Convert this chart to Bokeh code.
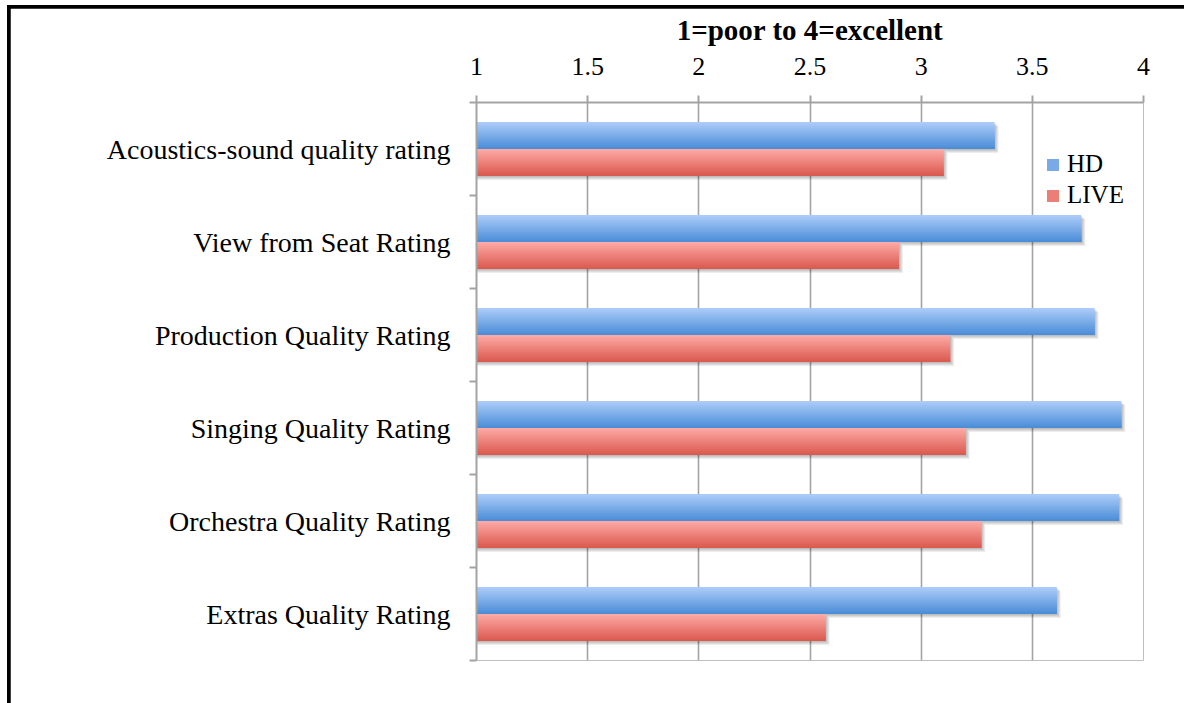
import numpy as np
from bokeh.plotting import figure
from bokeh.layouts import column
from bokeh.models import (ColumnDataSource, Range1d, FixedTicker, NumeralTickFormatter,
                          Legend, LegendItem)
from bokeh.embed import file_html
from bokeh.resources import INLINE

# Survey ratings, 1=poor to 4=excellent
categories = [
    "Acoustics-sound quality rating",
    "View from Seat Rating",
    "Production Quality Rating",
    "Singing Quality Rating",
    "Orchestra Quality Rating",
    "Extras Quality Rating",
]
hd_values = [3.33, 3.72, 3.78, 3.90, 3.89, 3.61]
live_values = [3.10, 2.90, 3.13, 3.20, 3.27, 2.57]
series_names = ["HD", "LIVE"]
x_ticks = [1, 1.5, 2, 2.5, 3, 3.5, 4]
axis_title = "1=poor to 4=excellent"

# the page frame (black rules on top and left) sits outside the canvas
OFF_X, OFF_Y = 10, 8
W, H = 1184 - OFF_X, 703 - OFF_Y
FONT = "Liberation Serif"
GRID = "#a3a3a3"

n = len(categories)
p = figure(width=W, height=H, output_backend="svg", toolbar_location=None,
           x_range=Range1d(1, 4), y_range=Range1d(n, 0),
           x_axis_location="above",
           min_border_left=476 - OFF_X, min_border_right=41,
           min_border_top=102 - OFF_Y, min_border_bottom=43)
p.outline_line_color = None
p.background_fill_color = "white"
p.border_fill_color = "white"

# horizontal value axis on top
xa = p.xaxis[0]
xa.ticker = FixedTicker(ticks=x_ticks, minor_ticks=[])
xa.formatter = NumeralTickFormatter(format="0.[0]")
xa.axis_line_color = GRID
xa.axis_line_width = 2
xa.major_tick_line_color = GRID
xa.major_tick_line_width = 2
xa.major_tick_out = 7
xa.major_tick_in = 0
xa.minor_tick_out = 0
xa.minor_tick_in = 0
xa.major_label_text_font = FONT
xa.major_label_text_font_size = "26px"
xa.major_label_text_color = "black"
xa.major_label_standoff = 21
xa.axis_label = axis_title
xa.axis_label_text_font = FONT
xa.axis_label_text_font_style = "bold"
xa.axis_label_text_font_size = "29px"
xa.axis_label_text_color = "black"
xa.axis_label_standoff = 9

# category axis: labels at centres, ticks at boundaries
centers = np.arange(n) + 0.5
ya = p.yaxis[0]
ya.ticker = FixedTicker(ticks=list(centers), minor_ticks=list(range(n + 1)))
ya.major_label_overrides = {float(c): cat for c, cat in zip(centers, categories)}
ya.axis_line_color = GRID
ya.axis_line_width = 2
ya.major_tick_out = 0
ya.major_tick_in = 0
ya.minor_tick_out = 7
ya.minor_tick_in = 0
ya.minor_tick_line_color = GRID
ya.minor_tick_line_width = 2
ya.major_label_text_font = FONT
ya.major_label_text_font_size = "28px"
ya.major_label_text_color = "black"
ya.major_label_standoff = 19

p.xgrid.ticker = FixedTicker(ticks=x_ticks, minor_ticks=[])
p.xgrid.grid_line_color = GRID
p.xgrid.grid_line_width = 1.6
p.ygrid.grid_line_color = None

# pixel sizes in data units
px = 3 / 667
py = n / 558
bar_h = 0.29
STRIPS = 14


def lerp(c1, c2, t):
    a = [int(c1[i:i + 2], 16) for i in (1, 3, 5)]
    b = [int(c2[i:i + 2], 16) for i in (1, 3, 5)]
    return "#%02x%02x%02x" % tuple(round(a[j] + (b[j] - a[j]) * t) for j in range(3))


def draw_series(values, top_offset, c_top, c_bot):
    vals = np.array(values, dtype=float)
    tops = centers + top_offset
    # soft drop shadow
    for k in range(1, 5):
        src = ColumnDataSource(dict(y=tops + bar_h / 2 + k * py, right=vals + k * px))
        p.hbar(y="y", left=1, right="right", height=bar_h, source=src,
               fill_color="black", fill_alpha=0.07, line_color=None)
    # vertical gradient built from overlapping strips
    mid = None
    for k in range(STRIPS):
        s_top = tops + k * bar_h / STRIPS
        s_bot = tops + bar_h
        src = ColumnDataSource(dict(y=(s_top + s_bot) / 2, h=s_bot - s_top, right=vals))
        r = p.hbar(y="y", left=1, right="right", height="h", source=src,
                   fill_color=lerp(c_top, c_bot, k / (STRIPS - 1)), line_color=None)
        if k == STRIPS // 2:
            mid = r
    return mid


hd_r = draw_series(hd_values, -bar_h, "#aacbf8", "#4d8ed8")
live_r = draw_series(live_values, 0.0, "#fca8a4", "#dc5b51")

legend = Legend(items=[LegendItem(label=series_names[0], renderers=[hd_r]),
                       LegendItem(label=series_names[1], renderers=[live_r])],
                location=(565, 447), orientation="vertical",
                glyph_width=15, glyph_height=15, label_height=25,
                label_text_font=FONT, label_text_font_size="25px",
                label_text_color="black",
                label_standoff=7, spacing=3, padding=4, margin=0,
                border_line_alpha=0, background_fill_color="white",
                background_fill_alpha=1)
p.add_layout(legend)

# black padding on the top and left reads as the page frame rules
page = column(p, styles={"margin-left": "7px", "margin-top": "5px",
                         "padding-left": "3px", "padding-top": "3px",
                         "background-color": "black"})

open("out.html", "w").write(file_html(page, INLINE))
